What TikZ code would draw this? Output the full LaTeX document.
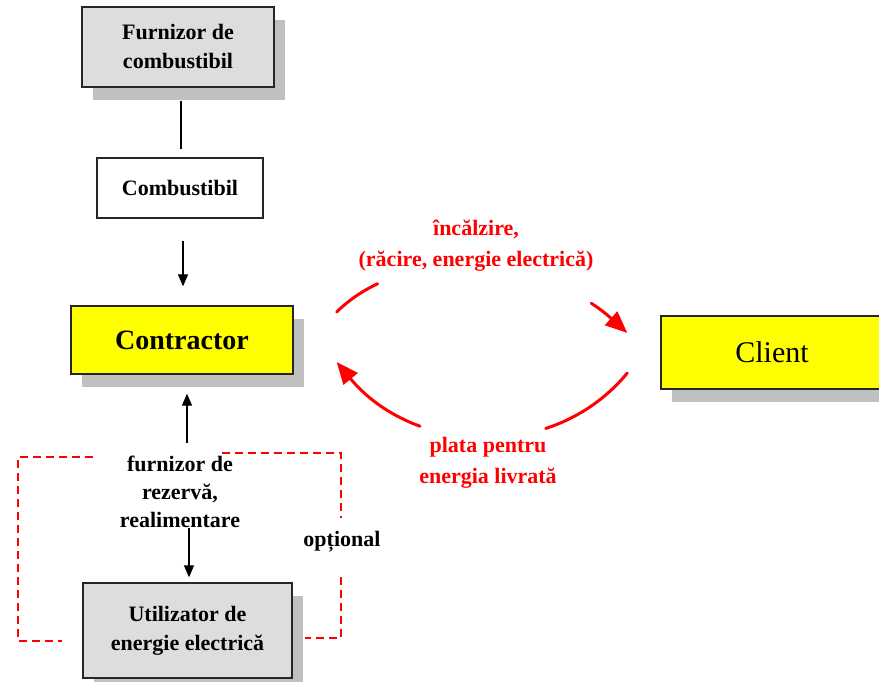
\documentclass[tikz,border=0pt]{standalone}
\usepackage{fontspec}
\setmainfont{Liberation Serif}
\usetikzlibrary{arrows.meta,shadows}
\definecolor{boxgray}{HTML}{DDDDDD}
\definecolor{shadowgray}{HTML}{C0C0C0}
\definecolor{pred}{HTML}{FF0000}
\definecolor{pyellow}{HTML}{FFFF00}
\begin{document}
\begin{tikzpicture}[x=1pt,y=-1pt,
  box/.style={draw=black!85, line width=1.3pt, inner sep=0pt, align=center,
    font=\fontsize{22}{29}\selectfont\bfseries},
  shad/.style={drop shadow={shadow xshift=11pt, shadow yshift=-13pt, fill=shadowgray, opacity=1}},
  blk/.style={line width=1.2pt, -{Triangle[length=12pt,width=10pt]}},
  redarr/.style={draw=pred, line width=3pt, line cap=round, -{Triangle[length=22pt,width=18pt]}},
  lbl/.style={align=center, font=\fontsize{22}{28}\selectfont\bfseries, inner sep=0pt},
  rlbl/.style={lbl, text=pred, font=\fontsize{22}{31}\selectfont\bfseries},
  dsh/.style={draw=pred, line width=1.1pt, dash pattern=on 8pt off 5pt}
]
\useasboundingbox (0,0) rectangle (879,682);
\fill[white] (0,0) rectangle (879,682);

% boxes
\node[box, shad, fill=boxgray, minimum width=192pt, minimum height=80pt] (furn) at (178,47) {Furnizor de\\combustibil};
\node[box, fill=white, minimum width=166pt, minimum height=60pt] (comb) at (180,188) {Combustibil};
\node[box, shad, fill=pyellow, minimum width=222pt, minimum height=68pt,
  font=\fontsize{28}{30}\selectfont\bfseries] (ctr) at (182,340) {Contractor};
\node[box, shad, fill=pyellow, minimum width=222pt, minimum height=73pt,
  font=\fontsize{30}{32}\selectfont] (cli) at (772,352.5) {Client};
\node[box, shad, fill=boxgray, minimum width=209pt, minimum height=95pt] (util) at (187.5,630.5) {Utilizator de\\energie electrică};

% labels
\node[lbl, anchor=north] (res) at (180,456) {furnizor de\\rezervă,\\realimentare};
\node[lbl] (opt) at (342,542) {opțional};
\node[rlbl] (heat) at (476,246) {încălzire,\\(răcire, energie electrică)};
\node[rlbl] (pay) at (488,463) {plata pentru\\energia livrată};

% black connectors
\draw[line width=1.2pt] ([xshift=3pt,yshift=-13pt]furn.south) -- ([xshift=1pt,yshift=8pt]comb.north);
\draw[blk] ([xshift=3pt,yshift=-22pt]comb.south) -- ([xshift=1pt,yshift=19pt]ctr.north);
\draw[blk] ([xshift=7pt,yshift=13pt]res.north) -- ([xshift=5pt,yshift=-19pt]ctr.south);
\draw[blk] ([xshift=9pt]res.south) -- ([xshift=1.5pt,yshift=5pt]util.north);

% dashed optional loop
\draw[dsh] (93,457) -- (18,457) -- (18,641) -- (62,641);
\draw[dsh] (222,453) -- (341,453) -- (341,518) (341,577) -- (341,638) -- (305,638);

% red arcs
\coordinate (h1) at ([xshift=43pt,yshift=28pt]ctr.east);
\coordinate (h2) at ([xshift=-33pt,yshift=19.5pt]cli.west);
\coordinate (p1) at ([xshift=-33pt,yshift=-20.5pt]cli.west);
\coordinate (p2) at ([xshift=43pt,yshift=-22pt]ctr.east);
\draw[redarr, dash pattern=on 50pt off 223pt on 300pt] (h1) .. controls (411,239) and (550,263) .. (h2);
\draw[redarr, dash pattern=on 100pt off 128pt on 300pt] (p1) .. controls (552,464) and (412,453) .. (p2);
\end{tikzpicture}
\end{document}
